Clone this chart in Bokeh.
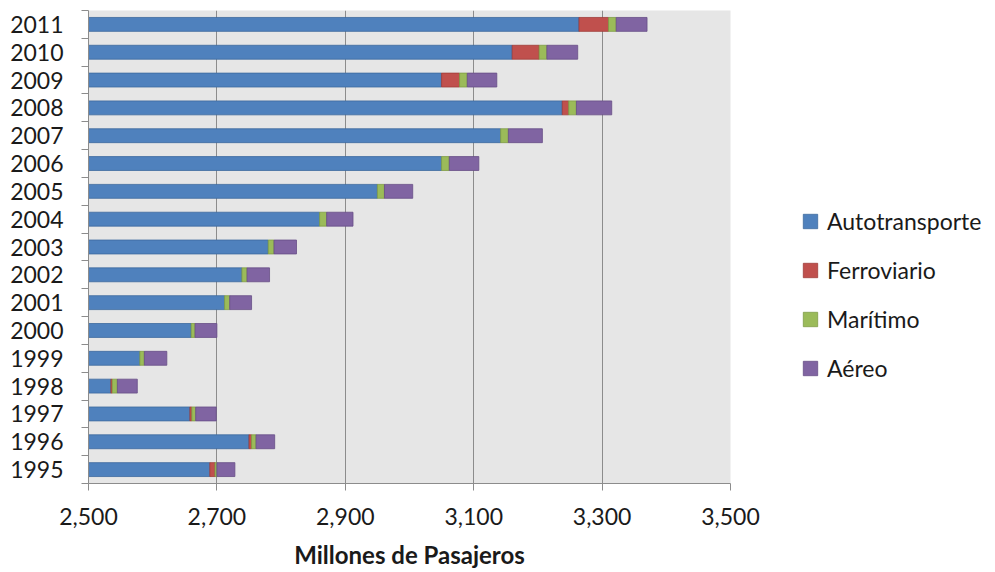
import pandas as pd
from bokeh.plotting import figure
from bokeh.layouts import row
from bokeh.models import ColumnDataSource, Legend, LegendItem, FixedTicker, NumeralTickFormatter
from bokeh.embed import file_html
from bokeh.resources import INLINE

years = list(range(1995, 2012))
autotransporte = [2689, 2750, 2658, 2535, 2580, 2660, 2712, 2739, 2780, 2860, 2950, 3050, 3142, 3238, 3050, 3160, 3264]
ferroviario = [8, 4, 3, 2, 0, 0, 0, 0, 0, 0, 0, 0, 0, 10, 28, 42, 46]
maritimo = [3, 7, 6, 8, 7, 6, 8, 8, 9, 11, 11, 12, 12, 12, 12, 12, 12]
aereo = [28, 29, 32, 31, 35, 34, 34, 35, 35, 41, 44, 46, 53, 55, 46, 48, 48]

series_names = ["Autotransporte", "Ferroviario", "Marítimo", "Aéreo"]
series_values = [autotransporte, ferroviario, maritimo, aereo]
fill_colors = ["#4F81BD", "#C0504D", "#9BBB59", "#8064A2"]
line_colors = ["#3D6A9E", "#A03C39", "#7F9C45", "#674E86"]
x_ticks = [2500, 2700, 2900, 3100, 3300, 3500]

FONT = "Lato"
TXT = "#1a1a1a"

p = figure(width=765, height=572, output_backend="svg", toolbar_location=None,
           x_range=(2500, 3500), y_range=(1994.5, 2011.5),
           min_border_left=88, min_border_right=35, min_border_top=10, min_border_bottom=89)
p.background_fill_color = "#E6E6E6"
p.border_fill_color = "white"
p.outline_line_color = None

# legend panel on the right
pl = figure(width=230, height=572, output_backend="svg", toolbar_location=None,
            x_range=(2500, 3500), y_range=(1994.5, 2011.5),
            x_axis_location=None, y_axis_location=None,
            min_border_left=0, min_border_right=0, min_border_top=10, min_border_bottom=89)
pl.outline_line_color = None
pl.xgrid.grid_line_color = None
pl.ygrid.grid_line_color = None

items = []
base = [0] * len(years)
for name, vals, fc, lc in zip(series_names, series_values, fill_colors, line_colors):
    left = list(base)
    right = [b + v for b, v in zip(base, vals)]
    d = pd.DataFrame({"year": years, "left": left, "right": right, "val": vals})
    d = d[d["val"] > 0]
    src = ColumnDataSource(d)
    p.hbar(y="year", left="left", right="right", height=0.5, source=src,
           fill_color=fc, line_color=lc, line_width=0.8)
    r = pl.hbar(y="year", left="left", right="right", height=0.5, source=src,
                fill_color=fc, line_color=lc, line_width=0.8)
    r.visible = False
    items.append(LegendItem(label=name, renderers=[r]))
    base = right

# x axis
p.xaxis.ticker = FixedTicker(ticks=x_ticks)
p.xaxis.formatter = NumeralTickFormatter(format="0,0")
p.xaxis.axis_line_color = "#8C8C8C"
p.xaxis.major_tick_line_color = "#8C8C8C"
p.xaxis.major_tick_out = 7
p.xaxis.major_tick_in = 0
p.xaxis.minor_tick_line_color = None
p.xaxis.major_label_text_font = FONT
p.xaxis.major_label_text_font_size = "23px"
p.xaxis.major_label_text_color = TXT
p.xaxis.major_label_standoff = 17
p.xaxis.axis_label = "Millones de Pasajeros"
p.xaxis.axis_label_text_font = FONT
p.xaxis.axis_label_text_font_style = "bold"
p.xaxis.axis_label_text_font_size = "24px"
p.xaxis.axis_label_text_color = TXT
p.xaxis.axis_label_standoff = 12

# y axis
p.yaxis.ticker = FixedTicker(ticks=years, minor_ticks=[y - 0.5 for y in years] + [years[-1] + 0.5])
p.yaxis.axis_line_color = "#8C8C8C"
p.yaxis.major_tick_line_color = None
p.yaxis.major_tick_out = 0
p.yaxis.major_tick_in = 0
p.yaxis.minor_tick_line_color = "#8C8C8C"
p.yaxis.minor_tick_out = 7
p.yaxis.minor_tick_in = 0
p.yaxis.major_label_text_font = FONT
p.yaxis.major_label_text_font_size = "23px"
p.yaxis.major_label_text_color = TXT
p.yaxis.major_label_standoff = 18

p.xgrid.ticker = FixedTicker(ticks=x_ticks)
p.xgrid.grid_line_color = "#8C8C8C"
p.ygrid.grid_line_color = None

legend = Legend(items=items, location=(36, 101), orientation="vertical",
                border_line_color=None, background_fill_alpha=0,
                padding=0, margin=0, spacing=21,
                glyph_width=18, glyph_height=18, label_standoff=8,
                label_text_font=FONT, label_text_font_size="23px",
                label_text_color=TXT)
pl.add_layout(legend, "center")

layout = row(p, pl)
open("out.html", "w").write(file_html(layout, INLINE))
